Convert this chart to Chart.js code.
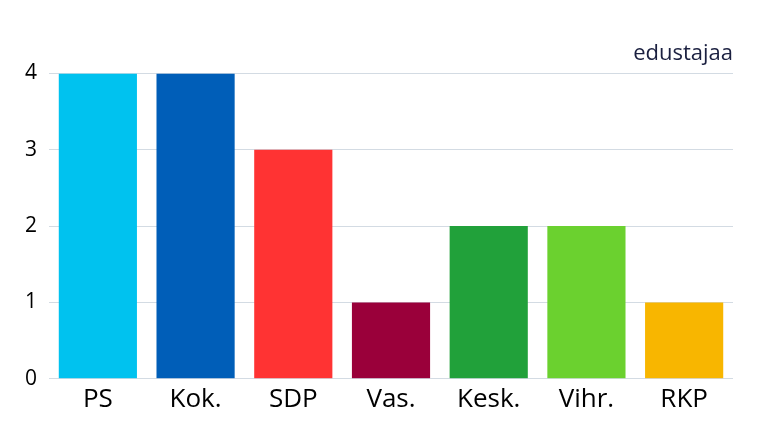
<!DOCTYPE html>
<html><head><meta charset="utf-8">
<script src="https://cdn.jsdelivr.net/npm/chart.js@4/dist/chart.umd.min.js"></script>
<style>html,body{margin:0;padding:0;background:#fff;}canvas{display:block;}</style>
</head><body>
<canvas id="c" width="767" height="431"></canvas>
<script>
const categories = ["PS", "Kok.", "SDP", "Vas.", "Kesk.", "Vihr.", "RKP"];
const seats = [4, 4, 3, 1, 2, 2, 1];
const barColors = ["#00c2ef", "#005eb8", "#ff3333", "#9a003a", "#21a13a", "#6bd12f", "#f8b600"];
const yTicks = [0, 1, 2, 3, 4];
const unitLabel = "edustajaa";

new Chart(document.getElementById("c"), {
  type: "bar",
  data: {
    labels: categories,
    datasets: [{ data: seats, backgroundColor: barColors, borderWidth: 0,
      barPercentage: 0.8, categoryPercentage: 1.0 }]
  },
  options: {
    responsive: false,
    devicePixelRatio: 1,
    animation: false,
    layout: { padding: { left: 13, right: 34, top: 0, bottom: 11 } },
    plugins: {
      legend: { display: false },
      tooltip: { enabled: false },
      title: {
        display: true, text: unitLabel, align: "end",
        color: "#1b2040",
        font: { family: "'Open Sans'", size: 22, weight: "normal" },
        padding: { top: 41, bottom: 6 }
      }
    },
    scales: {
      x: {
        grid: { display: false, drawTicks: false },
        border: { display: false },
        ticks: { color: "#000", font: { family: "'Open Sans'", size: 26 }, padding: 5 }
      },
      y: {
        min: 0, max: 4,
        afterBuildTicks: (ax) => { ax.ticks = yTicks.map(v => ({ value: v })); },
        grid: { color: "#d3dbe3", lineWidth: 1, drawTicks: false },
        border: { display: false },
        ticks: { color: "#000", font: { family: "'Open Sans'", size: 21 }, padding: 12 }
      }
    }
  }
});
</script>
</body></html>
